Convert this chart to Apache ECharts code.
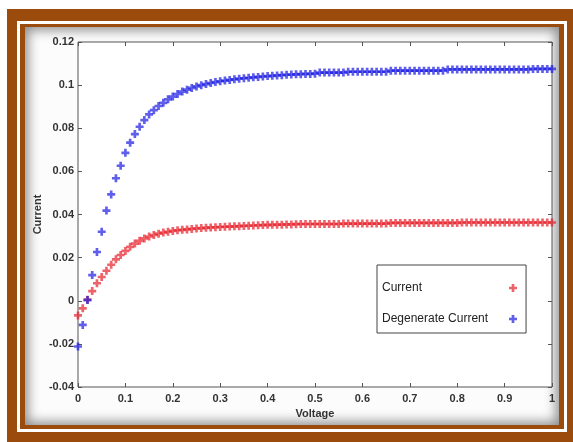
<!DOCTYPE html>
<html>
<head>
<meta charset="utf-8">
<script src="https://cdn.jsdelivr.net/npm/echarts@6/dist/echarts.min.js"></script>
<style>
  body { margin: 0; background: #fff; }
  .frame { position: absolute; left: 7px; top: 9px; width: 566px; height: 433px; background: #9b4b0b; }
  .line { position: absolute; left: 17px; top: 21px; width: 550px; height: 411px; box-sizing: border-box; border: 3px solid #fff; background: #9b4b0b; }
  .inner { position: absolute; left: 25px; top: 27px; width: 534px; height: 398px; background: #fcfcfc; box-shadow: inset 0 0 12px 3px rgba(0,0,0,0.45); }
  #chart { position: absolute; left: 0; top: 0; width: 573px; height: 442px; }
</style>
</head>
<body>
<div class="frame"></div>
<div class="line"></div>
<div class="inner"></div>
<div id="chart"></div>
<script>
// values, one point every 0.01 V
let voltage = [0, 0.01, 0.02, 0.03, 0.04, 0.05, 0.06, 0.07, 0.08, 0.09,
  0.1, 0.11, 0.12, 0.13, 0.14, 0.15, 0.16, 0.17, 0.18, 0.19,
  0.2, 0.21, 0.22, 0.23, 0.24, 0.25, 0.26, 0.27, 0.28, 0.29,
  0.3, 0.31, 0.32, 0.33, 0.34, 0.35, 0.36, 0.37, 0.38, 0.39,
  0.4, 0.41, 0.42, 0.43, 0.44, 0.45, 0.46, 0.47, 0.48, 0.49,
  0.5, 0.51, 0.52, 0.53, 0.54, 0.55, 0.56, 0.57, 0.58, 0.59,
  0.6, 0.61, 0.62, 0.63, 0.64, 0.65, 0.66, 0.67, 0.68, 0.69,
  0.7, 0.71, 0.72, 0.73, 0.74, 0.75, 0.76, 0.77, 0.78, 0.79,
  0.8, 0.81, 0.82, 0.83, 0.84, 0.85, 0.86, 0.87, 0.88, 0.89,
  0.9, 0.91, 0.92, 0.93, 0.94, 0.95, 0.96, 0.97, 0.98, 0.99, 1]

let current = [-0.0068, -0.0035, 0.0005, 0.0045, 0.0081, 0.0110, 0.0139, 0.0167, 0.0192, 0.0212,
  0.0231, 0.0250, 0.0265, 0.0278, 0.0289, 0.0298, 0.0305, 0.0311, 0.0316, 0.0320,
  0.0324, 0.0327, 0.0329, 0.0331, 0.0333, 0.0335, 0.0337, 0.0338, 0.0340, 0.0341,
  0.0342, 0.0343, 0.0344, 0.0345, 0.0346, 0.0347, 0.0348, 0.0349, 0.0350, 0.0351,
  0.0352, 0.0352, 0.0353, 0.0353, 0.0354, 0.0354, 0.0355, 0.0356, 0.0356, 0.0356,
  0.0356, 0.0356, 0.0356, 0.0356, 0.0356, 0.0356, 0.0358, 0.0358, 0.0358, 0.0358,
  0.0358, 0.0358, 0.0358, 0.0358, 0.0358, 0.0358, 0.0361, 0.0361, 0.0361, 0.0361,
  0.0361, 0.0361, 0.0361, 0.0361, 0.0361, 0.0361, 0.0361, 0.0361, 0.0361, 0.0361,
  0.0361, 0.0363, 0.0363, 0.0363, 0.0363, 0.0363, 0.0363, 0.0363, 0.0363, 0.0363,
  0.0363, 0.0363, 0.0363, 0.0363, 0.0363, 0.0363, 0.0363, 0.0363, 0.0363, 0.0363, 0.0363]

let degenerate = [-0.0212, -0.0112, 0.0003, 0.0119, 0.0226, 0.0320, 0.0418, 0.0493, 0.0568, 0.0626,
  0.0686, 0.0733, 0.0773, 0.0807, 0.0838, 0.0864, 0.0884, 0.0903, 0.0918, 0.0934,
  0.0947, 0.0959, 0.0970, 0.0979, 0.0987, 0.0994, 0.1000, 0.1005, 0.1010, 0.1014,
  0.1018, 0.1021, 0.1024, 0.1027, 0.1030, 0.1032, 0.1034, 0.1036, 0.1038, 0.1040,
  0.1042, 0.1043, 0.1045, 0.1046, 0.1048, 0.1049, 0.1050, 0.1051, 0.1052, 0.1052,
  0.1053, 0.1058, 0.1058, 0.1058, 0.1058, 0.1058, 0.1058, 0.1062, 0.1062, 0.1062,
  0.1062, 0.1062, 0.1062, 0.1062, 0.1062, 0.1062, 0.1067, 0.1067, 0.1067, 0.1067,
  0.1067, 0.1067, 0.1067, 0.1067, 0.1067, 0.1067, 0.1067, 0.1067, 0.1073, 0.1073,
  0.1073, 0.1073, 0.1073, 0.1073, 0.1073, 0.1073, 0.1073, 0.1073, 0.1073, 0.1073,
  0.1073, 0.1073, 0.1073, 0.1073, 0.1073, 0.1073, 0.1075, 0.1075, 0.1075, 0.1075, 0.1075]

let seriesNames = ['Current', 'Degenerate Current']

let plus = 'path://M3,0H6V3H9V6H6V9H3V6H0V3H3Z'
let labelFont = {fontFamily: 'Liberation Sans', fontSize: 11, fontWeight: 'bold', color: '#333'}
let legendFont = {fontFamily: 'Liberation Sans', fontSize: 12, color: '#222'}

function pairs (ys) {
  return voltage.map((v, i) => [v, ys[i]])
}

let baseX = {type: 'value', min: 0, max: 1, interval: 0.1, splitLine: {show: false},
  axisLine: {show: false, onZero: false}, axisTick: {inside: true, length: 4, lineStyle: {color: '#555'}}}
let baseY = {type: 'value', min: -0.04, max: 0.12, interval: 0.02, splitLine: {show: false},
  axisLine: {show: false, onZero: false}, axisTick: {inside: true, length: 4, lineStyle: {color: '#555'}}}

let option = {
  animation: false,
  grid: {left: 78, top: 42, width: 474, height: 345, show: true,
    backgroundColor: '#fff', borderColor: '#555', borderWidth: 1},
  xAxis: [
    Object.assign({}, baseX, {position: 'bottom', name: 'Voltage', nameLocation: 'middle', nameGap: 19,
      nameTextStyle: labelFont, axisLabel: Object.assign({margin: 6}, labelFont)}),
    Object.assign({}, baseX, {position: 'top', axisLabel: {show: false}})
  ],
  yAxis: [
    Object.assign({}, baseY, {position: 'left', name: 'Current', nameLocation: 'middle', nameGap: 35,
      nameMoveOverlap: false, nameTextStyle: labelFont, axisLabel: Object.assign({margin: 4}, labelFont)}),
    Object.assign({}, baseY, {position: 'right', axisLabel: {show: false}})
  ],
  // MATLAB style box: names on the left, markers lined up on the right
  legend: [
    {
      orient: 'vertical', left: 377, top: 265, icon: 'none',
      backgroundColor: '#fff', borderColor: '#444', borderWidth: 1,
      padding: [17, 38, 8, 0], itemGap: 19, itemWidth: 0, itemHeight: 8,
      textStyle: legendFont, data: seriesNames
    },
    {
      orient: 'vertical', left: 509, top: 265, z: 5,
      padding: [17, 0, 8, 0], itemGap: 19, itemWidth: 8, itemHeight: 8,
      formatter: () => ' ', textStyle: legendFont, data: seriesNames
    }
  ],
  series: [
    {name: seriesNames[0], type: 'scatter', symbol: plus, symbolSize: 8,
      itemStyle: {color: 'rgba(230,25,35,0.85)'}, data: pairs(current)},
    {name: seriesNames[1], type: 'scatter', symbol: plus, symbolSize: 8,
      itemStyle: {color: 'rgba(20,20,225,0.85)'}, data: pairs(degenerate)}
  ]
}

let myChart = echarts.init(document.getElementById('chart'))
myChart.setOption(option)
</script>
</body>
</html>
